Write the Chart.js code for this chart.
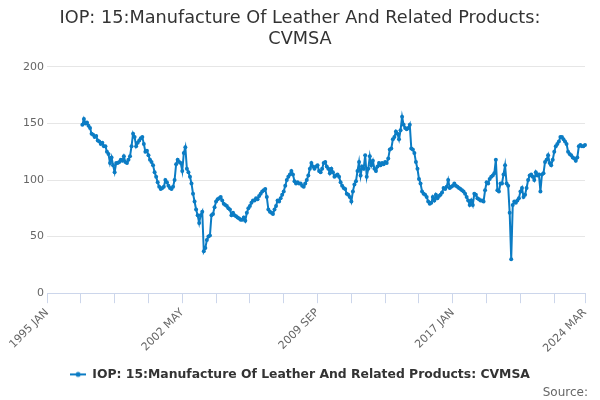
<!DOCTYPE html>
<html lang="en">
<head>
  <meta charset="utf-8">
  <script src="https://cdn.jsdelivr.net/npm/chart.js@4.4.0/dist/chart.umd.min.js"></script>
  <style>
    body {
      margin: 0;
      background: #fff;
    }
    #chart {
      display: block;
    }
  </style>
</head>
<body>
  <canvas id="chart" width="600" height="400"></canvas>

  <script>
    // months shown on the axis
    const firstYear = 1995;
    const lastLabel = '2024 MAR';
    const monthNames = ['JAN', 'FEB', 'MAR', 'APR', 'MAY', 'JUN', 'JUL', 'AUG', 'SEP', 'OCT', 'NOV', 'DEC'];
    const tickLabels = ['1995 JAN', '2002 MAY', '2009 SEP', '2017 JAN', '2024 MAR'];

    const seriesName = 'IOP: 15:Manufacture Of Leather And Related Products: CVMSA';
    const firstMonth = '1996 DEC';
    // monthly values, from 1996 DEC
    const values = [
      149, 154, 150, 151, 148, 146, 141, 140, 138, 139, 135, 134, 132,
      133, 130, 130, 125, 123, 115, 120, 113, 107, 115, 115, 116,
      118, 117, 121, 116, 115, 118, 121, 130, 141, 138, 130, 133,
      135, 137, 138, 132, 125, 126, 122, 118, 116, 113, 107, 103,
      98, 94, 92, 93, 94, 100, 98, 95, 93, 92, 94, 100,
      114, 118, 116, 115, 108, 124, 129, 110, 107, 103, 97, 88,
      81, 74, 69, 62, 69, 72, 37, 40, 47, 50, 51, 69,
      70, 76, 81, 83, 84, 85, 82, 79, 78, 77, 75, 74,
      69, 71, 69, 68, 67, 66, 65, 65, 67, 64, 71, 75,
      77, 80, 82, 82, 84, 83, 86, 88, 90, 91, 92, 85,
      74, 72, 71, 70, 74, 77, 82, 81, 84, 87, 90, 95,
      100, 103, 105, 108, 105, 99, 97, 98, 97, 97, 95, 94,
      97, 100, 104, 110, 115, 112, 110, 112, 113, 108, 107, 110,
      115, 116, 112, 110, 106, 110, 107, 103, 104, 105, 103, 98,
      95, 93, 92, 88, 87, 85, 81, 90, 96, 99, 108, 116,
      104, 112, 110, 122, 103, 110, 121, 113, 117, 110, 108, 112,
      115, 113, 115, 114, 116, 115, 119, 127, 128, 136, 138, 143,
      141, 136, 144, 156, 149, 146, 145, 146, 149, 128, 127, 124,
      116, 110, 101, 97, 90, 88, 87, 85, 81, 79, 80, 85,
      82, 87, 84, 86, 87, 89, 93, 92, 94, 100, 93, 94,
      95, 97, 95, 94, 93, 92, 91, 90, 88, 85, 82, 78,
      82, 78, 88, 87, 84, 83, 82, 82, 81, 91, 98, 97,
      101, 103, 104, 106, 118, 91, 90, 97, 97, 105, 113, 97,
      95, 71, 30, 78, 81, 80, 82, 84, 90, 93, 85, 87,
      93, 100, 104, 105, 103, 100, 107, 104, 105, 90, 105, 106,
      116, 118, 122, 115, 113, 118, 125, 130, 132, 134, 138, 138,
      136, 134, 132, 125, 123, 122, 120, 119, 117, 120, 130, 131,
      130, 130, 131
    ];

    const months = [];
    for (let y = firstYear; ; y++) {
      let done = false;
      for (let m = 0; m < 12; m++) {
        const lab = y + ' ' + monthNames[m];
        months.push(lab);
        if (lab === lastLabel) { done = true; break; }
      }
      if (done) break;
    }

    const offset = months.indexOf(firstMonth);
    const series = new Array(offset).fill(null).concat(values);

    const lineColor = '#0b7cc4';
    const fontFamily = '"DejaVu Sans", sans-serif';

    // little line + dot used in the legend
    const marker = document.createElement('canvas');
    marker.width = 16;
    marker.height = 8;
    const mctx = marker.getContext('2d');
    mctx.strokeStyle = lineColor;
    mctx.lineWidth = 2;
    mctx.beginPath();
    mctx.moveTo(0, 4);
    mctx.lineTo(16, 4);
    mctx.stroke();
    mctx.fillStyle = lineColor;
    mctx.beginPath();
    mctx.arc(8, 4, 2.5, 0, Math.PI * 2);
    mctx.fill();

    const ctx = document.getElementById('chart').getContext('2d');
    const chart = new Chart(ctx, {
      type: 'line',
      data: {
        labels: months,
        datasets: [{
          label: seriesName,
          data: series,
          borderColor: lineColor,
          backgroundColor: lineColor,
          borderWidth: 2,
          pointRadius: 2,
          pointBorderWidth: 0,
          tension: 0
        }]
      },
      options: {
        responsive: false,
        animation: false,
        layout: {
          padding: { left: 12, right: 12, top: 4, bottom: 0 }
        },
        plugins: {
          title: {
            display: true,
            text: ['IOP: 15:Manufacture Of Leather And Related Products:', 'CVMSA'],
            color: '#333',
            font: { family: fontFamily, size: 17.7, weight: 'normal', lineHeight: 1.2 },
            padding: { top: 4, bottom: 16.5 }
          },
          subtitle: {
            display: true,
            position: 'bottom',
            align: 'end',
            text: 'Source:',
            color: '#666',
            font: { family: fontFamily, size: 12, weight: 'normal' },
            padding: { top: -5, bottom: 0 }
          },
          legend: {
            position: 'bottom',
            labels: {
              usePointStyle: true,
              pointStyle: marker,
              pointStyleWidth: 16,
              color: '#333',
              font: { family: fontFamily, size: 12.4, weight: 'bold' },
              padding: 10
            }
          },
          tooltip: { enabled: false }
        },
        scales: {
          x: {
            afterBuildTicks(axis) {
              axis.ticks = axis.ticks.filter(t => t.value % 22 === 0 || t.value === months.length - 1);
            },
            afterFit(axis) {
              // keeps the plot's right edge 3px inside the layout padding
              axis.paddingRight = Math.max(axis.paddingRight, 15);
            },
            grid: {
              drawOnChartArea: false,
              tickLength: 10,
              color: '#ccd6eb'
            },
            border: { color: '#ccd6eb' },
            ticks: {
              autoSkip: false,
              minRotation: 45,
              maxRotation: 45,
              color: '#666',
              font: { family: fontFamily, size: 11 },
              callback(value) {
                const lab = months[value];
                return tickLabels.includes(lab) ? lab : '';
              }
            }
          },
          y: {
            min: 0,
            max: 200,
            afterFit(axis) {
              axis.width = 35;
            },
            ticks: {
              stepSize: 50,
              color: '#666',
              padding: 3,
              font: { family: fontFamily, size: 11 }
            },
            grid: {
              color: '#e6e6e6',
              drawTicks: false
            },
            border: { display: false }
          }
        }
      }
    });
  </script>
</body>
</html>
